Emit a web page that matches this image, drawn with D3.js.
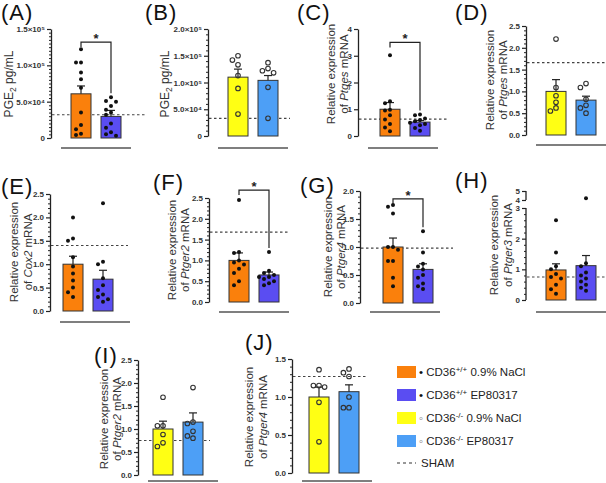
<!DOCTYPE html>
<html><head><meta charset="utf-8">
<script src="https://cdn.jsdelivr.net/npm/d3@7"></script>
<style>body{margin:0;background:#fff}svg{display:block;font-family:"Liberation Sans",Arial,sans-serif}</style>
</head><body><svg width="606" height="483"></svg>
<script>
// ---------------- DATA ----------------
const panels = ["A","B","C","D","E","F","G","H","I","J"];
const groupNames = ["CD36+/+ 0.9% NaCl","CD36+/+ EP80317","CD36-/- 0.9% NaCl","CD36-/- EP80317"];
const panelGroups = [[0,1],[2,3],[0,1],[2,3],[0,1],[0,1],[0,1],[0,1],[2,3],[2,3]];
const geneNames = [null,null,"Ptges","Ptges","Cox2","Ptger2","Ptger4","Ptger3","Ptger2","Ptger4"];
const barMeans = [[60800,29700],[110000,104000],[1.0,0.52],[1.0,0.8],[1.0,0.68],[1.0,0.65],[1.0,0.6],[0.98,1.12],[1.0,1.15],[1.0,1.07]];
const barSems  = [[10800,8300],[15000,9000],[0.25,0.06],[0.27,0.09],[0.17,0.19],[0.18,0.07],[0.16,0.1],[0.2,0.33],[0.17,0.2],[0.13,0.09]];
const points = [
 [[122000,104000,104000,90000,81000,69000,35000,18000,12000,6000,4000],[56000,51000,50000,44000,39000,35000,32000,20000,14000,8000,5000,3000]],
 [[150000,142000,133000,113000,89000,41000],[137000,126000,122000,118000,91000,33000]],
 [[3.02,1.3,1.22,0.98,0.95,0.78,0.62,0.45,0.32,0.18],[0.8,0.78,0.65,0.6,0.55,0.5,0.45,0.4,0.3,0.2]],
 [[2.2,1.09,0.9,0.75,0.62,0.55],[1.18,1.09,0.82,0.68,0.62,0.5]],
 [[2.0,1.55,1.5,1.15,0.95,0.8,0.65,0.5,0.4,0.3],[2.3,1.05,1.0,0.7,0.55,0.45,0.35,0.3,0.25,0.2]],
 [[2.45,1.2,1.18,1.0,0.95,0.9,0.8,0.7,0.5,0.4],[1.2,0.75,0.7,0.65,0.6,0.6,0.55,0.5,0.45,0.4]],
 [[1.75,1.72,1.6,1.0,1.0,0.95,0.75,0.75,0.45,0.3],[1.28,0.9,0.7,0.65,0.6,0.5,0.45,0.35,0.3,0.25]],
 [[2.6,1.55,1.1,1.0,0.85,0.75,0.7,0.5,0.35,0.2],[4.2,1.2,1.1,0.9,0.8,0.7,0.6,0.5,0.4,0.3]],
 [[1.69,1.07,1.07,0.88,0.7,0.62],[1.9,1.15,1.12,0.95,0.85,0.8]],
 [[1.36,1.15,1.15,1.13,0.93,0.41],[1.37,1.32,1.27,1.0,0.86,0.86]]
];
const shamLevels = [32000,33000,0.63,1.66,1.4,1.68,0.98,0.75,0.75,1.27];
const sigLevels = [132000,null,3.5,null,null,2.69,1.86,null,null,null];
const yMax = [150000,200000,4,2.5,2.5,2.5,2,5,2.5,1.5];
const hBreak = [3,4];
const majorTicks = [
 [0,50000,100000,150000],[0,50000,100000,150000,200000],[0,1,2,3,4],
 [0,0.5,1,1.5,2,2.5],[0,0.5,1,1.5,2,2.5],[0,0.5,1,1.5,2,2.5],[0,0.5,1,1.5,2],
 [0,1,2,3,4,5],[0,0.5,1,1.5,2,2.5],[0,0.5,1,1.5]
];
const tickLabels = [
 ["0","5.0×10⁴","1.0×10⁵","1.5×10⁵"],["0","5.0×10⁴","1.0×10⁵","1.5×10⁵","2.0×10⁵"],["0","1","2","3","4"],
 ["0.0","0.5","1.0","1.5","2.0","2.5"],["0.0","0.5","1.0","1.5","2.0","2.5"],["0.0","0.5","1.0","1.5","2.0","2.5"],["0.0","0.5","1.0","1.5","2.0"],
 ["0","1","2","3","4","5"],["0.0","0.5","1.0","1.5","2.0","2.5"],["0.0","0.5","1.0","1.5"]
];
const minorSteps = [5000,10000,null,0.1,0.1,0.1,0.1,0.2,0.1,0.1];

// ---------------- LAYOUT / STYLE ----------------
const groupColors = ["#FA800C","#5A4DF2","#FFFF14","#4D9FF6"];
const layout = [
 {ax:51, y0:138,yTop:29, barOff:20,l1:9,  l2:null,labY:84, tx:1,  ty:20, lineY:148,dashEnd:147},
 {ax:208,y0:136,yTop:29, barOff:20,l1:165,l2:null,labY:84, tx:145,ty:20, lineY:148,dashEnd:290},
 {ax:358,y0:136,yTop:29, barOff:22,l1:331,l2:344, labY:74, tx:297,ty:20, lineY:148,dashEnd:447},
 {ax:526,y0:135,yTop:26, barOff:20,l1:490,l2:503, labY:80, tx:455,ty:20, lineY:145,dashEnd:606},
 {ax:50, y0:311,yTop:194,barOff:13,l1:14, l2:28,  labY:252,tx:1,  ty:194,lineY:322,dashEnd:128},
 {ax:209,y0:302,yTop:198,barOff:20,l1:172,l2:185, labY:250,tx:153,ty:190,lineY:312,dashEnd:290},
 {ax:360,y0:303,yTop:191,barOff:23,l1:328,l2:341, labY:247,tx:300,ty:193,lineY:312,dashEnd:453},
 {ax:526,y0:300,yTop:191,barOff:20,l1:494,l2:508, labY:245,tx:455,ty:188,lineY:312,dashEnd:606,lowTop:208,upBottom:200},
 {ax:138,y0:475,yTop:360,barOff:15,l1:104,l2:117, labY:419,tx:94, ty:363,lineY:481,dashEnd:210},
 {ax:292,y0:473,yTop:359,barOff:17,l1:249,l2:263, labY:417,tx:245,ty:350,lineY:481,dashEnd:368}
];

const svg = d3.select("svg");
const INK = "#222";
const FF = '"Liberation Sans",Arial,sans-serif';
const LABFS = 11.5;

function range(a,b,s){const out=[];for(let k=0;a+k*s<=b+1e-9;k++)out.push(+(a+k*s).toFixed(6));return out;}

panels.forEach((id,i)=>{
  const L = layout[i];
  const g = svg.append("g");
  let y;
  if (id==="H") {
    y = d3.scaleLinear().domain([0,hBreak[0],hBreak[1],yMax[i]]).range([L.y0,L.lowTop,L.upBottom,L.yTop]);
  } else {
    y = d3.scaleLinear().domain([0,yMax[i]]).range([L.y0,L.yTop]);
  }
  const grp = panelGroups[i];
  const x = d3.scaleBand().domain([0,1]).range([L.ax+L.barOff-5, L.ax+L.barOff+55]).paddingInner(1/3).paddingOuter(1/6);

  g.append("line").attr("x1",L.ax+1).attr("x2",L.dashEnd)
    .attr("y1",y(shamLevels[i])).attr("y2",y(shamLevels[i]))
    .attr("stroke","#444").attr("stroke-width",1.2).attr("stroke-dasharray","2.5,2.5");

  g.selectAll("rect.bar").data([0,1]).join("rect")
    .attr("x",k=>x(k)).attr("width",x.bandwidth())
    .attr("y",k=>y(barMeans[i][k])).attr("height",k=>L.y0-y(barMeans[i][k]))
    .attr("fill",k=>groupColors[grp[k]]).attr("stroke","#333").attr("stroke-width",1);

  [0,1].forEach(k=>{
    const cx = x(k)+x.bandwidth()/2;
    const top = y(barMeans[i][k]+barSems[i][k]);
    g.append("line").attr("x1",cx).attr("x2",cx).attr("y1",y(barMeans[i][k])).attr("y2",top).attr("stroke",INK).attr("stroke-width",1.2);
    g.append("line").attr("x1",cx-4).attr("x2",cx+4).attr("y1",top).attr("y2",top).attr("stroke",INK).attr("stroke-width",1.2);
  });

  [0,1].forEach(k=>{
    const cx = x(k)+x.bandwidth()/2;
    const open = grp[k]>=2;
    const r = open?2.3:2;
    const placed=[];
    const vals = points[i][k].slice().sort((a,b)=>b-a);
    vals.forEach(v=>{
      const py=y(v);
      const cands=[0,-1,1,-2,2,-3,3];
      let px=cx;
      for(const c of cands){
        const tx=cx+c*(2*r+1);
        if(placed.every(p=>Math.hypot(p[0]-tx,p[1]-py)>=2*r+0.8)){px=tx;break;}
      }
      placed.push([px,py]);
    });
    g.selectAll(null).data(placed).join("circle")
      .attr("cx",d=>d[0]).attr("cy",d=>d[1]).attr("r",r)
      .attr("fill",open?"none":"#111").attr("stroke",open?"#333":"none").attr("stroke-width",1.1);
  });

  if (sigLevels[i]!=null){
    const by = y(sigLevels[i]);
    const c0 = x(0)+x.bandwidth()/2, c1 = x(1)+x.bandwidth()/2;
    const rightTop = Math.max(d3.max(points[i][1]), barMeans[i][1]+barSems[i][1]);
    const rEnd = y(rightTop)-4;
    g.append("path").attr("d",`M${c0},${by+5}V${by}H${c1}V${rEnd}`)
      .attr("fill","none").attr("stroke",INK).attr("stroke-width",1.2);
    g.append("text").attr("x",(c0+c1)/2).attr("y",by+1).attr("text-anchor","middle")
      .attr("font-size",13).attr("font-weight","bold").attr("fill",INK).text("*");
  }

  const axG = g.append("g").attr("transform",`translate(${L.ax},0)`);
  const labs = tickLabels[i];
  axG.call(d3.axisLeft(y).tickValues(majorTicks[i]).tickFormat((d,k)=>labs[k]).tickSize(4).tickSizeOuter(0).tickPadding(2));
  if (minorSteps[i]){
    const hi = id==="H"?hBreak[0]:yMax[i];
    const minor = range(0,hi,minorSteps[i]).filter(v=>!majorTicks[i].some(m=>Math.abs(m-v)<1e-9));
    const mg = g.append("g").attr("transform",`translate(${L.ax},0)`);
    mg.call(d3.axisLeft(y).tickValues(minor).tickFormat("").tickSize(2).tickSizeOuter(0));
    mg.select(".domain").remove();
    mg.selectAll("line").attr("stroke",INK).attr("stroke-width",1);
  }
  axG.selectAll("line").attr("stroke",INK).attr("stroke-width",1.2);
  axG.select(".domain").attr("stroke",INK).attr("stroke-width",1.3);
  axG.selectAll("text").attr("font-size",8).attr("font-weight","bold").attr("fill","#333").attr("font-family",FF);
  if (id==="H"){
    axG.select(".domain").remove();
    axG.append("line").attr("x1",0).attr("x2",0).attr("y1",y(0)).attr("y2",y(hBreak[0])).attr("stroke",INK).attr("stroke-width",1.3);
    axG.append("line").attr("x1",0).attr("x2",0).attr("y1",y(hBreak[1])).attr("y2",y(yMax[i])).attr("stroke",INK).attr("stroke-width",1.3);
  }

  g.append("line").attr("x1",L.ax+10).attr("x2",L.ax+80).attr("y1",L.lineY).attr("y2",L.lineY)
    .attr("stroke","#555").attr("stroke-width",1.5);

  if (geneNames[i]==null){
    const t = g.append("text").attr("transform",`translate(${L.l1},${L.labY}) rotate(-90)`)
      .attr("text-anchor","middle").attr("dy","0.35em").attr("font-size",LABFS+0.5).attr("fill","#333");
    t.append("tspan").text("PGE");
    t.append("tspan").attr("font-size",8.5).attr("dy",3).text("2");
    t.append("tspan").attr("dy",-3).text(" pg/mL");
  } else {
    g.append("text").attr("transform",`translate(${L.l1},${L.labY}) rotate(-90)`)
      .attr("text-anchor","middle").attr("dy","0.35em").attr("font-size",LABFS).attr("fill","#333")
      .text("Relative expression");
    const t2 = g.append("text").attr("transform",`translate(${L.l2},${L.labY}) rotate(-90)`)
      .attr("text-anchor","middle").attr("dy","0.35em").attr("font-size",LABFS).attr("fill","#333");
    t2.append("tspan").text("of ");
    t2.append("tspan").attr("font-style","italic").text(geneNames[i]);
    t2.append("tspan").text(" mRNA");
  }

  g.append("text").attr("x",L.tx).attr("y",L.ty).attr("font-size",22).attr("letter-spacing",1)
    .attr("fill","#111").text(`(${id})`);
});

// ---------------- LEGEND ----------------
const legX = 397, legY0 = 372, legStep = 23;
const leg = svg.append("g");
groupNames.forEach((name,k)=>{
  const cy = legY0 + k*legStep;
  leg.append("rect").attr("x",legX).attr("y",cy-6).attr("width",19).attr("height",12).attr("fill",groupColors[k]);
  const m = name.match(/^CD36([+\-]\/[+\-]) (.*)$/);
  const t = leg.append("text").attr("x",legX+22).attr("y",cy+4).attr("font-size",11.5).attr("fill","#222");
  t.append("tspan").attr("fill",k<2?"#111":"#777").text(k<2?"•":"◦");
  t.append("tspan").text(" CD36");
  t.append("tspan").attr("font-size",8).attr("dy",-4).text(m[1]);
  t.append("tspan").attr("dy",4).text(" "+m[2]);
});
{
  const cy = legY0 + 4*legStep - 1;
  leg.append("line").attr("x1",legX).attr("x2",legX+19).attr("y1",cy).attr("y2",cy)
    .attr("stroke","#333").attr("stroke-width",1.2).attr("stroke-dasharray","3,3");
  leg.append("text").attr("x",legX+24).attr("y",cy+4).attr("font-size",11.5).attr("fill","#222").text("SHAM");
}
</script></body></html>
